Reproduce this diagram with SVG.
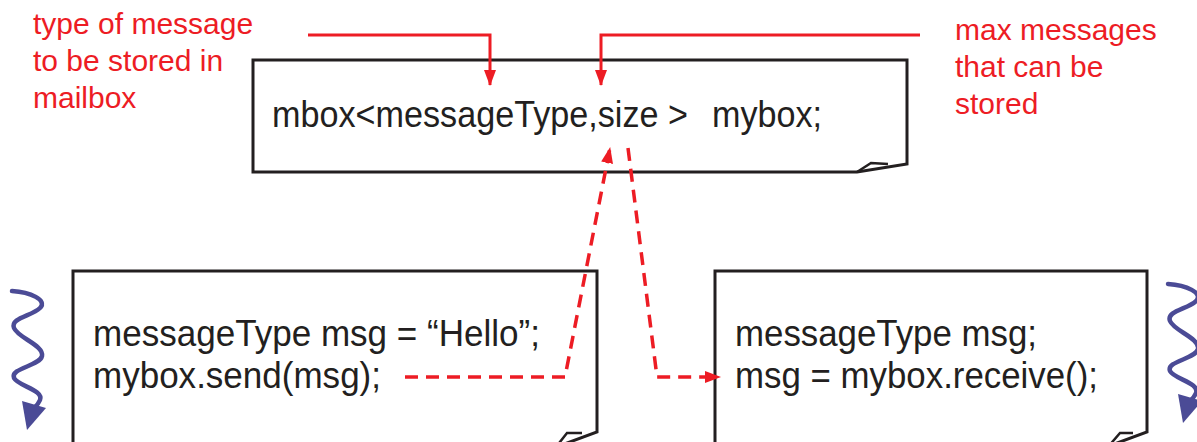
<svg xmlns="http://www.w3.org/2000/svg" width="1197" height="442" viewBox="0 0 1197 442">
<style>
.box{fill:#fff;stroke:#231f20;stroke-width:3;stroke-linejoin:miter}
.fold{fill:none;stroke:#231f20;stroke-width:2.5}
.code{font-family:"Liberation Sans",Arial,sans-serif;font-size:36px;fill:#231f20}
.note{font-family:"Liberation Sans",Arial,sans-serif;font-size:30px;fill:#ed1c24}
.red{fill:none;stroke:#ed1c24;stroke-width:3}
.dash{fill:none;stroke:#ed1c24;stroke-width:3.5;stroke-dasharray:13 8}
.wave{fill:none;stroke:#4b4b96;stroke-width:4.5;stroke-linecap:round}
</style>
<defs>
<marker id="ahs" markerWidth="16" markerHeight="12" refX="15" refY="6" orient="auto" markerUnits="userSpaceOnUse" viewBox="0 0 16 12">
<path d="M0,0 L16,6 L0,12 Z" fill="#ed1c24"/>
</marker>
<g id="squiggle">
<path class="wave" d="M12,291 C30,292 48,300 40,308 C32,316 10,318 14,328 C18,338 44,345 42,356 C40,366 10,368 14,378 C18,386 44,390 40,400 C38,405 35,407 33,409"/>
<path d="M22,401 L46,408 L27,430 Z" fill="#4b4b96"/>
</g>
</defs>

<g id="top-box">
<path class="box" d="M253,60 H907 V164 L857,172 H253 Z"/>
<path class="fold" d="M857,172 L871,163 L888,164"/>
<text class="code" x="272" y="127" textLength="416" lengthAdjust="spacingAndGlyphs">mbox&lt;messageType,size &gt;</text>
<text class="code" x="712" y="127" textLength="110" lengthAdjust="spacingAndGlyphs">mybox;</text>
</g>

<g id="sender-box">
<path class="box" d="M73,271 H597 V432 L548,450 H73 Z"/>
<path class="fold" d="M556,447 L567,433 L582,433"/>
<text class="code" x="93" y="346" textLength="447" lengthAdjust="spacingAndGlyphs">messageType msg = “Hello”;</text>
<text class="code" x="93" y="388" textLength="288" lengthAdjust="spacingAndGlyphs">mybox.send(msg);</text>
</g>

<g id="receiver-box">
<path class="box" d="M715,271 H1147 V432 L1098,450 H715 Z"/>
<path class="fold" d="M1108,447 L1120,433 L1133,433"/>
<text class="code" x="735" y="346" textLength="302" lengthAdjust="spacingAndGlyphs">messageType msg;</text>
<text class="code" x="735" y="388" textLength="363" lengthAdjust="spacingAndGlyphs">msg = mybox.receive();</text>
</g>

<g id="label-type">
<text class="note" x="33" y="34">type of message</text>
<text class="note" x="33" y="71">to be stored in</text>
<text class="note" x="33" y="108">mailbox</text>
</g>

<g id="label-size">
<text class="note" x="955" y="40">max messages</text>
<text class="note" x="955" y="77">that can be</text>
<text class="note" x="955" y="114">stored</text>
</g>

<g id="thread-left">
<use href="#squiggle"/>
</g>
<g id="thread-right">
<use href="#squiggle" transform="translate(1156,-7)"/>
</g>

<g id="connectors">
<path class="red" d="M308,35 H490 V85" marker-end="url(#ahs)"/>
<path class="red" d="M920,35 H601 V85" marker-end="url(#ahs)"/>
<path class="dash" d="M405,377 H565 L610,148" marker-end="url(#ahs)"/>
<path class="dash" d="M628,148 L657,377 H720" marker-end="url(#ahs)"/>
</g>
</svg>
